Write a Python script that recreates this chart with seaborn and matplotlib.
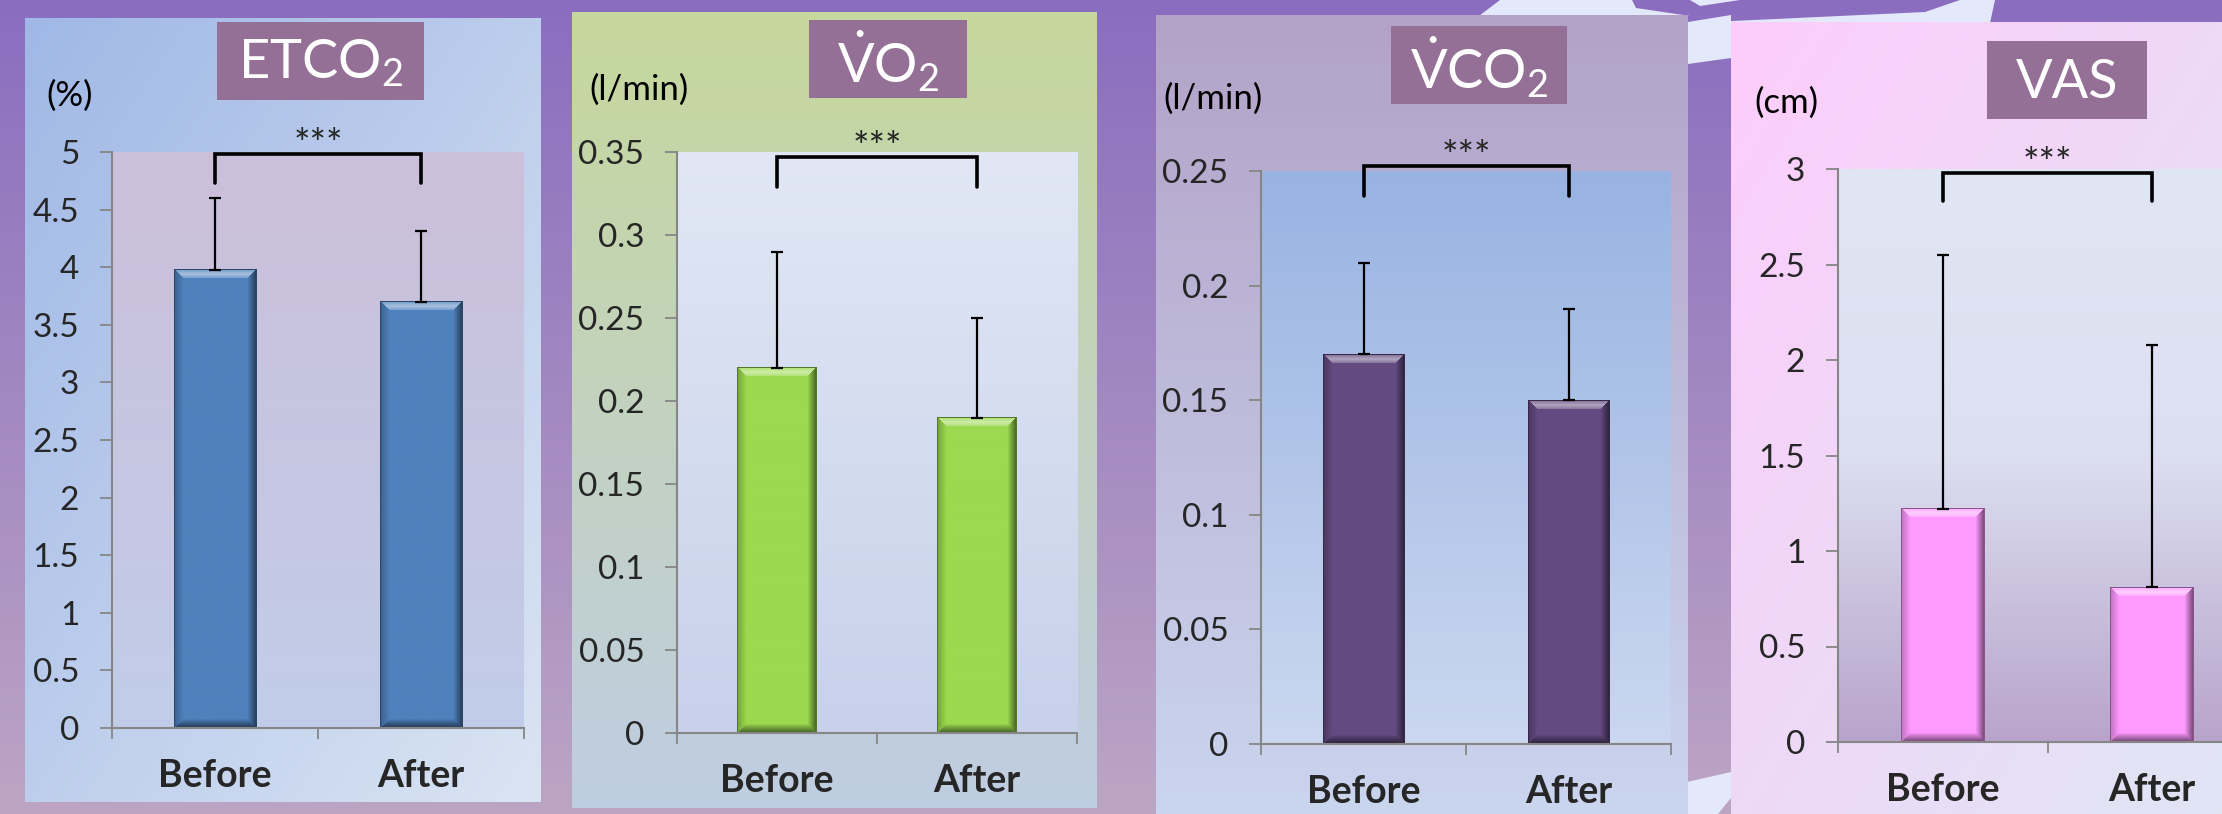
import numpy as np
import matplotlib
matplotlib.use("Agg")
import matplotlib.pyplot as plt
import seaborn as sns
from matplotlib.patches import Rectangle, Polygon
from matplotlib.colors import to_rgb
from matplotlib.ticker import FuncFormatter, MultipleLocator, FixedLocator

# ---------------- data ----------------
categories = ["Before", "After"]
titles = ["ETCO$_2$", r"$\mathrm{\dot{V}O_2}$", r"$\mathrm{\dot{V}CO_2}$", "VAS"]
units = ["(%)", "(l/min)", "(l/min)", "(cm)"]

etco2_mean = [3.98, 3.70]
etco2_err = [0.62, 0.61]
vo2_mean = [0.22, 0.19]
vo2_err = [0.07, 0.06]
vco2_mean = [0.17, 0.15]
vco2_err = [0.04, 0.04]
vas_mean = [1.22, 0.81]
vas_err = [1.33, 1.27]

y_max = [5, 0.35, 0.25, 3]
y_step = [0.5, 0.05, 0.05, 0.5]
sig_label = ["***", "***", "***", "***"]
bracket_top = [4.98, 0.347, 0.252, 2.98]
bracket_leg = [4.73, 0.329, 0.239, 2.83]

means = [etco2_mean, vo2_mean, vco2_mean, vas_mean]
errs = [etco2_err, vo2_err, vco2_err, vas_err]

# ---------------- style ----------------
sns.set_style("ticks")
plt.rcParams["font.family"] = ["Lato", "DejaVu Sans"]
plt.rcParams["mathtext.fontset"] = "custom"
plt.rcParams["mathtext.rm"] = "Lato"
plt.rcParams["mathtext.it"] = "Lato:italic"
plt.rcParams["mathtext.bf"] = "Lato:bold"

W, H = 2222, 814
fig = plt.figure(figsize=(W / 100, H / 100), dpi=100)


def rect(x0, y0, x1, y1):
    return [x0 / W, 1 - y1 / H, (x1 - x0) / W, (y1 - y0) / H]


def gradient(c0, c1, direction="v", n=200, cmid=None):
    a = np.array(to_rgb(c0))
    b = np.array(to_rgb(c1))
    yy, xx = np.mgrid[0:1:n * 1j, 0:1:n * 1j]
    if direction == "v":
        t = yy
    elif direction == "h":
        t = xx
    else:
        t = (xx + yy) / 2
    if cmid is None:
        return a + (b - a) * t[..., None]
    m = np.array(to_rgb(cmid))
    out = np.where((t < 0.5)[..., None],
                   a + (m - a) * (t / 0.5)[..., None],
                   m + (b - m) * ((t - 0.5) / 0.5)[..., None])
    return out


# background
bg = fig.add_axes([0, 0, 1, 1], zorder=-20)
bg.imshow(gradient("#8a6dbf", "#bca5c4", "v"), extent=[0, 1, 0, 1], aspect="auto")
bg.set_xlim(0, 1)
bg.set_ylim(0, 1)
bg.axis("off")
light = "#e4e8fb"
for pts in [
    [(1479, 16), (1500, 0), (1632, 0), (1636, 8), (1690, 16)],
    [(1688, 22), (1731, 15), (1731, 58), (1688, 64)],
    [(1690, 23), (1925, 12), (1960, 0), (1995, 0), (1990, 23)],
    [(1690, 0), (1740, 0), (1700, 6)],
    [(1687, 782), (1731, 772), (1731, 798), (1718, 814), (1687, 814)],
]:
    bg.add_patch(Polygon([(x / W, 1 - y / H) for x, y in pts], closed=True,
                         facecolor=light, edgecolor="none"))

panels = [
    dict(bg=(25, 18, 541, 802), bgc=("#a0b8e6", "#dae4f3", "d", None),
         tb=(217, 22, 424, 100), unit=(70, 96),
         ax=(112, 152, 524, 728), pc=("#ccbfda", "#c1cde9", "v", None),
         bar="#4f81bd"),
    dict(bg=(572, 12, 1097, 808), bgc=("#c6d89c", "#bfcde2", "v", None),
         tb=(809, 20, 967, 98), unit=(639, 90),
         ax=(677, 152, 1077, 733), pc=("#e1e7f4", "#c7d1ea", "v", None),
         bar="#9bd94f"),
    dict(bg=(1156, 15, 1688, 814), bgc=("#b3a2c8", "#cad5ee", "v", None),
         tb=(1391, 26, 1567, 104), unit=(1213, 99),
         ax=(1261, 171, 1671, 744), pc=("#98b3e2", "#cbd7f0", "v", None),
         bar="#634a80"),
    dict(bg=(1731, 22, 2222, 814), bgc=("#fdcdfb", "#e0e5f4", "d", None),
         tb=(1987, 41, 2147, 119), unit=(1786, 103),
         ax=(1838, 169, 2257, 742), pc=("#e0e6f4", "#b8a4cb", "v", "#dcdff0"),
         bar="#ff99ff"),
]


def add_bevel(ax, color):
    base = np.array(to_rgb(color))
    fig.canvas.draw()
    for p in list(ax.patches):
        bb = p.get_window_extent()
        w = max(int(round(bb.width)), 2)
        h = max(int(round(bb.height)), 2)
        yy, xx = np.mgrid[0:h, 0:w]
        dl, dr, dt, db = xx, w - 1 - xx, yy, h - 1 - yy
        d = np.stack([dl, dr, dt, db])
        which = np.argmin(d, axis=0)
        mind = np.min(d, axis=0)
        img = np.tile(base, (h, w, 1)).astype(float)
        b = 9.0
        frac = np.clip(mind / b, 0, 1)[..., None]
        edge = mind < b
        dark_out = np.clip(base * 0.45, 0, 1)
        mid_out = np.clip(base * 0.75, 0, 1)
        lite_out = np.clip(base + (1 - base) * 0.5, 0, 1)
        cols = {0: mid_out, 1: dark_out, 2: lite_out, 3: dark_out}
        for k, c in cols.items():
            m = edge & (which == k)
            blend = c + (base - c) * frac
            if k == 2:
                blend = c + (base - c) * np.abs(frac - 0.5) * 2 * 0.6
            img[m] = blend[m]
        img[mind < 1] = np.clip(base * 0.55, 0, 1)
        x0, y0 = p.get_x(), p.get_y()
        ax.imshow(img, extent=[x0, x0 + p.get_width(), y0, y0 + p.get_height()],
                  aspect="auto", zorder=p.get_zorder() + 0.1, interpolation="bilinear")


for i, P in enumerate(panels):
    pa = fig.add_axes(rect(*P["bg"]), zorder=-10)
    c0, c1, dd, cm = P["bgc"]
    pa.imshow(gradient(c0, c1, dd, cmid=cm), extent=[0, 1, 0, 1], aspect="auto")
    pa.set_xlim(0, 1)
    pa.set_ylim(0, 1)
    pa.axis("off")

    x0, y0, x1, y1 = P["tb"]
    fig.add_artist(Rectangle((x0 / W, 1 - y1 / H), (x1 - x0) / W, (y1 - y0) / H,
                             transform=fig.transFigure, facecolor="#957096",
                             edgecolor="none", zorder=1))
    fig.text((x0 + x1) / 2 / W, 1 - ((y0 + y1) / 2 + 2) / H, titles[i],
             color="white", fontsize=39, ha="center", va="center", zorder=3)

    ux, uy = P["unit"]
    fig.text(ux / W, 1 - uy / H, units[i], fontsize=25, ha="center", va="center",
             color="black", zorder=3)

    ax = fig.add_axes(rect(*P["ax"]), zorder=0)
    ax.set_facecolor("none")
    ym = y_max[i]
    c0, c1, dd, cm = P["pc"]
    ax.imshow(gradient(c0, c1, dd, cmid=cm), extent=[-0.5, 1.5, 0, ym],
              aspect="auto", zorder=0)

    sns.barplot(x=categories, y=means[i], ax=ax, color=P["bar"], saturation=1,
                width=0.4, linewidth=0, zorder=2)
    ax.set_xlim(-0.5, 1.5)
    ax.set_ylim(0, ym)

    add_bevel(ax, P["bar"])
    ax.set_xlim(-0.5, 1.5)
    ax.set_ylim(0, ym)

    ax.errorbar(x=[0, 1], y=means[i], yerr=[[0, 0], errs[i]], fmt="none",
                ecolor="black", elinewidth=1.6, capsize=4.5, capthick=1.6, zorder=5)

    bt, bl = bracket_top[i], bracket_leg[i]
    ax.plot([0, 0, 1, 1], [bl, bt, bt, bl], color="black", lw=2.6,
            solid_joinstyle="miter", clip_on=False, zorder=6)
    ax.annotate(sig_label[i], xy=(0.5, bt), xytext=(0, -7), textcoords="offset points",
                ha="center", va="bottom", fontsize=28, annotation_clip=False, zorder=6)

    sns.despine(ax=ax, top=True, right=True)
    for s in ["left", "bottom"]:
        ax.spines[s].set_color("#868686")
        ax.spines[s].set_linewidth(1.5)
    ax.yaxis.set_major_locator(MultipleLocator(y_step[i]))
    ax.yaxis.set_major_formatter(FuncFormatter(
        lambda v, pos: f"{v:.2f}".rstrip("0").rstrip(".") if abs(v) > 1e-9 else "0"))
    ax.tick_params(axis="y", length=8.5, width=1.3, color="#868686", pad=15,
                   labelsize=24, direction="out")
    ax.set_xticks([0, 1])
    ax.set_xticklabels(categories, fontweight="bold")
    ax.tick_params(axis="x", which="major", length=0, pad=22, labelsize=27)
    ax.xaxis.set_minor_locator(FixedLocator([-0.5, 0.5, 1.5]))
    ax.tick_params(axis="x", which="minor", length=8, width=1.3, color="#868686",
                   direction="out")
    ax.set_xlabel("")
    ax.set_ylabel("")

fig.savefig("out.png", dpi=100)
